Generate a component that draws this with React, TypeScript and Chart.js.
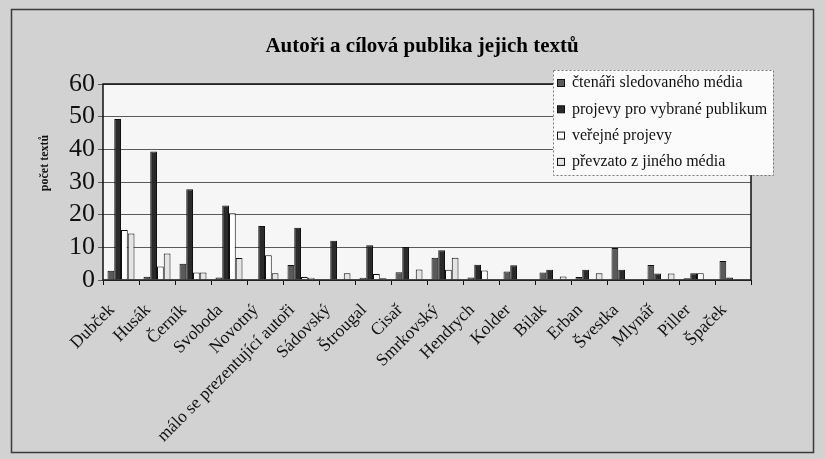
import React, { useEffect, useRef } from "react";
import { Chart, registerables } from "chart.js";

Chart.register(...registerables);

const TITLE = "Autoři a cílová publika jejich textů";
const Y_TITLE = "počet textů";

const categories = [
  "Dubček", "Husák", "Černík", "Svoboda", "Novotný",
  "málo se prezentující autoři", "Sádovský", "Štrougal", "Cisař",
  "Smrkovský", "Hendrych", "Kolder", "Bilak", "Erban", "Švestka",
  "Mlynář", "Piller", "Špaček",
];

const seriesLabels = [
  "čtenáři sledovaného média",
  "projevy pro vybrané publikum",
  "veřejné projevy",
  "převzato z jiného média",
];

const ctenari = [2.8, 1, 5, 0.8, 0, 4.6, 0, 0.7, 2.4, 6.8, 0.8, 2.6, 2.3, 0.9, 9.8, 4.6, 0.5, 5.8];
const vybranePublikum = [49.3, 39.3, 27.8, 22.8, 16.5, 16, 12, 10.6, 10.1, 9.1, 4.7, 4.5, 3.1, 3.1, 3.1, 2.0, 2.1, 0.8];
const verejneProjevy = [15.3, 4.1, 2.3, 20.4, 7.6, 0.9, 0, 1.8, 0, 3.1, 2.9, 0, 0, 0, 0, 0, 2.1, 0];
const prevzato = [14.2, 8.1, 2.3, 6.7, 2.1, 0.7, 2.1, 0.5, 3.2, 6.8, 0, 0, 1.1, 2.1, 0, 2.0, 0, 0];

const yTicks = [0, 10, 20, 30, 40, 50, 60];

const fills = ["#5a5a5a", "#2a2a2a", "#ffffff", "#e4e4e4"];

const SERIF = "'Liberation Serif', 'Times New Roman', serif";

const pagePlugin = {
  id: "page",
  beforeDraw(chart: any) {
    const { ctx, chartArea: a, width, height } = chart;
    ctx.save();
    ctx.fillStyle = "#d2d2d2";
    ctx.fillRect(0, 0, width, height);
    ctx.strokeStyle = "#3a3a3a";
    ctx.lineWidth = 1.5;
    ctx.strokeRect(11.5, 9.5, 802, 443);
    ctx.fillStyle = "#f6f6f6";
    ctx.fillRect(a.left, a.top, a.right - a.left, a.bottom - a.top);
    ctx.restore();
  },
  afterDatasetsDraw(chart: any) {
    const { ctx, chartArea: a } = chart;
    ctx.save();
    ctx.strokeStyle = "#111";
    ctx.lineWidth = 1.5;
    ctx.strokeRect(a.left, a.top, a.right - a.left, a.bottom - a.top);
    ctx.restore();
  },
  afterDraw(chart: any) {
    const { ctx } = chart;
    // chart title
    ctx.save();
    ctx.fillStyle = "#000";
    ctx.font = `bold 21px ${SERIF}`;
    ctx.textAlign = "center";
    ctx.textBaseline = "middle";
    ctx.fillText(TITLE, 422, 47);
    ctx.restore();

    // y axis title
    ctx.save();
    ctx.translate(45, 163);
    ctx.rotate(-Math.PI / 2);
    ctx.fillStyle = "#111";
    ctx.font = `bold 12px ${SERIF}`;
    ctx.textAlign = "center";
    ctx.textBaseline = "middle";
    ctx.fillText(Y_TITLE, 0, 0);
    ctx.restore();

    // legend
    ctx.save();
    const lx = 553, ly = 70, lw = 220, lh = 105;
    ctx.fillStyle = "#fbfbfb";
    ctx.fillRect(lx, ly, lw, lh);
    ctx.strokeStyle = "#777";
    ctx.lineWidth = 1;
    ctx.setLineDash([2, 2]);
    ctx.strokeRect(lx + 0.5, ly + 0.5, lw, lh);
    ctx.setLineDash([]);
    ctx.font = `16px ${SERIF}`;
    ctx.textBaseline = "middle";
    ctx.textAlign = "left";
    chart.data.datasets.forEach((ds: any, i: number) => {
      const y = 83 + i * 26.3;
      ctx.fillStyle = ds.backgroundColor;
      ctx.fillRect(557, y - 3.5, 7, 7);
      ctx.strokeStyle = "#111";
      ctx.lineWidth = 1;
      ctx.strokeRect(557.5, y - 3.5, 7, 7);
      ctx.fillStyle = "#111";
      ctx.fillText(ds.label, 572, y);
    });
    ctx.restore();
  },
};

export default function App() {
  const ref = useRef<HTMLCanvasElement | null>(null);

  useEffect(() => {
    if (!ref.current) return;
    const series = [ctenari, vybranePublikum, verejneProjevy, prevzato];
    const chart = new Chart(ref.current, {
      type: "bar",
      data: {
        labels: categories,
        datasets: series.map((d, i) => ({
          label: seriesLabels[i],
          data: d,
          backgroundColor: fills[i],
          borderColor: "#111",
          borderWidth: 1,
          categoryPercentage: 0.75,
          barPercentage: 1.0,
        })),
      },
      options: {
        responsive: false,
        animation: false,
        layout: { padding: { left: 0, right: 74, top: 84, bottom: 0 } },
        plugins: {
          legend: { display: false },
          tooltip: { enabled: false },
          title: { display: false },
        },
        scales: {
          x: {
            grid: {
              display: true,
              drawOnChartArea: false,
              drawTicks: true,
              tickLength: 5,
              color: "#111",
              offset: true,
            },
            border: { display: false },
            ticks: {
              autoSkip: false,
              minRotation: 45,
              maxRotation: 45,
              labelOffset: -9,
              padding: 15,
              color: "#111",
              font: { family: SERIF, size: 17.5 },
            },
            afterFit: (s: any) => {
              s.height = 459 - 280;
            },
          },
          y: {
            min: 0,
            max: 60,
            afterBuildTicks: (s: any) => {
              s.ticks = yTicks.map((v) => ({ value: v }));
            },
            grid: {
              color: "#5a5a5a",
              lineWidth: 1,
              tickLength: 5,
              drawTicks: true,
            },
            border: { display: false },
            ticks: {
              autoSkip: false,
              padding: 3,
              color: "#111",
              font: { family: SERIF, size: 26 },
            },
            afterFit: (s: any) => {
              s.width = 103;
            },
          },
        },
      },
      plugins: [pagePlugin],
    } as any);
    return () => chart.destroy();
  }, []);

  return (
    <div style={{ position: "fixed", left: 0, top: 0, width: 825, height: 459 }}>
      <canvas ref={ref} width={825} height={459} style={{ width: 825, height: 459, display: "block" }} />
    </div>
  );
}
